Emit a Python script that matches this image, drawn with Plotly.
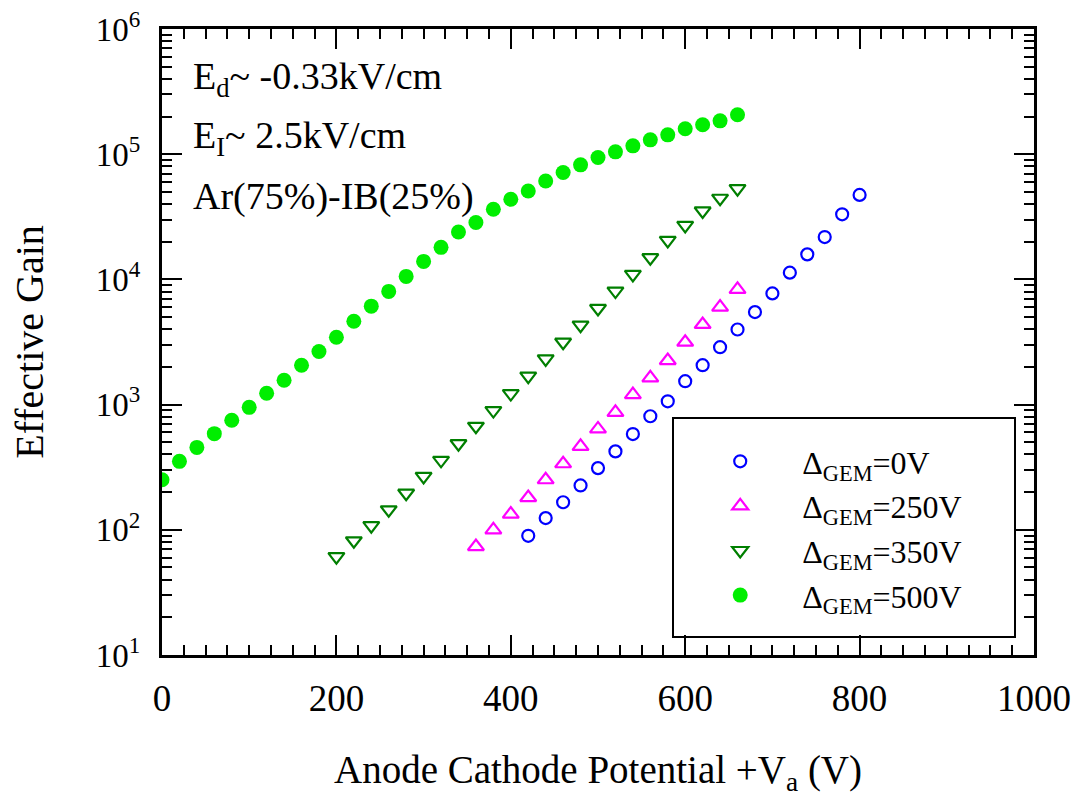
import plotly.graph_objects as go

# ---- data ----
x_0V = [420, 440, 460, 480, 500, 520, 540, 560, 580, 600, 620, 640, 660, 680, 700, 720, 740, 760, 780, 800]
gain_0V = [89.5, 124, 166, 226, 311, 423, 582, 807, 1063, 1538, 2064, 2875, 3981, 5480, 7730, 11320, 15850, 21800, 33100, 47300]

x_250V = [360, 380, 400, 420, 440, 460, 480, 500, 520, 540, 560, 580, 600, 620, 640, 660]
gain_250V = [73.5, 100, 133.5, 181, 251, 337, 464, 639, 868, 1202, 1634, 2249, 3150, 4365, 6010, 8318]

x_350V = [200, 220, 240, 260, 280, 300, 320, 340, 360, 380, 400, 420, 440, 460, 480, 500, 520, 540, 560, 580, 600, 620, 640, 660]
gain_350V = [61.1, 81.7, 108, 144.5, 196, 267, 359, 487, 671, 896, 1225, 1686, 2319, 3150, 4310, 5860, 8070, 10960, 14900, 20500, 27000, 35200, 44500, 53100]

x_500V = [0, 20, 40, 60, 80, 100, 120, 140, 160, 180, 200, 220, 240, 260, 280, 300, 320, 340, 360, 380, 400, 420, 440, 460, 480, 500, 520, 540, 560, 580, 600, 620, 640, 660]
gain_500V = [251, 352, 455, 586, 749, 951, 1231, 1565, 2062, 2655, 3455, 4638, 6115, 8017, 10570, 13930, 18030, 23900, 28440, 36300, 43650, 50850, 61100, 71400, 82200, 94000, 104400, 116600, 130200, 142800, 159500, 171700, 184700, 206300]

x_ticks = [0, 200, 400, 600, 800, 1000]
y_ticks = [1e1, 1e2, 1e3, 1e4, 1e5, 1e6]
y_ticktext = ["10<sup>1</sup>", "10<sup>2</sup>", "10<sup>3</sup>", "10<sup>4</sup>", "10<sup>5</sup>", "10<sup>6</sup>"]
y_minor = [k * 10 ** d for d in range(1, 6) for k in range(2, 10)]

labels = ["Δ<sub>GEM</sub>=0V", "Δ<sub>GEM</sub>=250V", "Δ<sub>GEM</sub>=350V", "Δ<sub>GEM</sub>=500V"]
notes = ["E<sub>d</sub>~ -0.33kV/cm", "E<sub>I</sub>~ 2.5kV/cm", "Ar(75%)-IB(25%)"]

FONT = "Liberation Serif"

fig = go.Figure()
fig.add_trace(go.Scatter(x=x_0V, y=gain_0V, mode="markers", name=labels[0],
                         marker=dict(symbol="circle-open", size=12, color="#0000ff", line=dict(width=2.2, color="#0000ff"))))
fig.add_trace(go.Scatter(x=x_250V, y=gain_250V, mode="markers", name=labels[1],
                         marker=dict(symbol="triangle-up-open", size=14, color="#ff00ff", line=dict(width=2.2, color="#ff00ff"))))
fig.add_trace(go.Scatter(x=x_350V, y=gain_350V, mode="markers", name=labels[2],
                         marker=dict(symbol="triangle-down-open", size=14, color="#007f00", line=dict(width=2.2, color="#007f00"))))
fig.add_trace(go.Scatter(x=x_500V, y=gain_500V, mode="markers", name=labels[3],
                         marker=dict(symbol="circle", size=15, color="#00ee00", line=dict(width=0))))

axis_common = dict(showline=True, linecolor="black", linewidth=3, mirror="ticks",
                   ticks="inside", ticklen=20, tickwidth=2, tickcolor="black",
                   showgrid=False, zeroline=False)

fig.update_xaxes(range=[0, 1000], tickvals=x_ticks, tickfont=dict(size=37, family=FONT),
                 minor=dict(dtick=25, ticks="inside", ticklen=10, tickwidth=2, tickcolor="black", showgrid=False),
                 ticklabelstandoff=9,
                 title=dict(text="Anode Cathode Potential +V<sub>a</sub> (V)", font=dict(size=39, family=FONT), standoff=38),
                 **axis_common)
fig.update_yaxes(type="log", range=[1, 6], tickvals=y_ticks, ticktext=y_ticktext, tickfont=dict(size=33, family=FONT),
                 minor=dict(tickvals=y_minor, ticks="inside", ticklen=10, tickwidth=2, tickcolor="black", showgrid=False),
                 ticklabelstandoff=12,
                 title=dict(text="Effective Gain", font=dict(size=40, family=FONT), standoff=40),
                 **axis_common)

for t, yy in zip(notes, [0.92, 0.826, 0.733]):
    fig.add_annotation(text=t, xref="paper", yref="paper", x=0.033, y=yy, xanchor="left", yanchor="middle",
                       showarrow=False, font=dict(size=38, family=FONT, color="black"))

# legend frame
fig.add_shape(type="rect", xref="paper", yref="paper",
              x0=(673 - 162) / 872, x1=(1015 - 162) / 872, y0=(655 - 637) / 626, y1=(655 - 418) / 626,
              line=dict(color="black", width=2), fillcolor="white", layer="below")

fig.update_layout(
    width=1079, height=803,
    margin=dict(l=162, r=45, t=29, b=148, autoexpand=False),
    plot_bgcolor="white", paper_bgcolor="white",
    font=dict(family=FONT, color="black"),
    legend=dict(x=0.592, y=0.353, xanchor="left", yanchor="top", bgcolor="rgba(0,0,0,0)",
                borderwidth=0, font=dict(size=32, family=FONT),
                itemwidth=114, tracegroupgap=0),
    showlegend=True,
)

fig.write_html("out.html")
